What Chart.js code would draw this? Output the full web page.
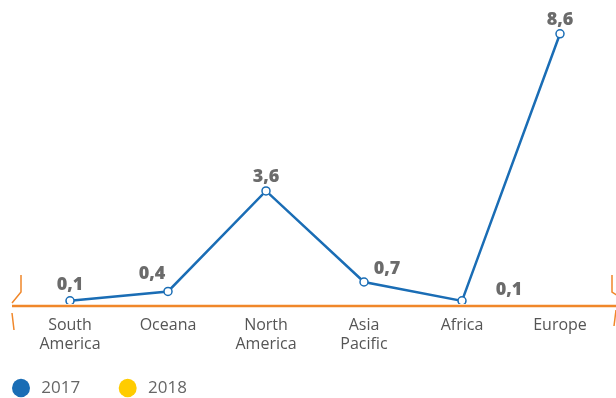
<!DOCTYPE html>
<html>
<head>
<meta charset="utf-8">
<script src="https://cdn.jsdelivr.net/npm/chart.js@4/dist/chart.umd.min.js"></script>
<style>
  html, body { margin: 0; padding: 0; background: #fff; }
  #wrap { width: 616px; height: 398px; position: relative; }
</style>
</head>
<body>
<div id="wrap"><canvas id="regionChart"></canvas></div>
<script>
// data
const regions = [["South", "America"], "Oceana", ["North", "America"], ["Asia", "Pacific"], "Africa", "Europe"];
const values2017 = [0.1, 0.4, 3.6, 0.7, 0.1, 8.6];
const values2018 = [];
const seriesNames = ["2017", "2018"];

const BLUE = "#1a6db5";
const YELLOW = "#ffcc00";
const ORANGE = "#f0872a";
const seriesColors = [BLUE, YELLOW];

// where each value label sits relative to its point
const labelShift = [[0, -16], [-16, -18], [0, -14], [23, -13], [47, -11], [0, -14]];

/* ===== ORANGE BASE LINE + BRACKETS ===== */
const baseLine = {
  id: "baseLine",
  beforeDatasetsDraw(chart) {
    const ctx = chart.ctx;
    const y = chart.scales.y.getPixelForValue(0) + 2;
    ctx.save();
    ctx.strokeStyle = ORANGE;
    ctx.lineWidth = 2.5;
    ctx.beginPath();
    ctx.moveTo(12, y);
    ctx.lineTo(chart.width, y);
    ctx.stroke();
    ctx.lineWidth = 1.5;
    // left bracket
    ctx.beginPath();
    ctx.moveTo(21, y - 31);
    ctx.lineTo(21, y - 14);
    ctx.lineTo(12, y - 3);
    ctx.moveTo(12, y + 7);
    ctx.lineTo(14, y + 24);
    ctx.stroke();
    // right bracket
    ctx.beginPath();
    ctx.moveTo(612, y - 31);
    ctx.lineTo(612, y - 14);
    ctx.lineTo(618, y - 10);
    ctx.moveTo(616, y + 4);
    ctx.lineTo(614, y + 20);
    ctx.stroke();
    ctx.restore();
  },
};

/* ===== VALUE LABELS ===== */
const valueLabels = {
  id: "valueLabels",
  afterDatasetsDraw(chart) {
    const ctx = chart.ctx;
    const meta = chart.getDatasetMeta(0);
    ctx.save();
    ctx.font = "800 18px 'Open Sans'";
    ctx.fillStyle = "#6b6b6b";
    ctx.textAlign = "center";
    ctx.textBaseline = "middle";
    meta.data.forEach((pt, i) => {
      const v = chart.data.datasets[0].data[i];
      const s = labelShift[i] || [0, -14];
      ctx.fillText(v.toFixed(1).replace(".", ","), pt.x + s[0], pt.y + s[1]);
    });
    ctx.restore();
  },
};

/* legend sits a bit lower than Chart.js puts it */
const legendDrop = {
  id: "legendDrop",
  afterLayout(chart) {
    chart.legend.top += 8.5;
    chart.legend.bottom += 8.5;
  },
};

const ctx = document.getElementById("regionChart");

new Chart(ctx, {
  type: "line",
  data: {
    labels: regions,
    datasets: [
      {
        label: seriesNames[0],
        data: values2017,
        borderColor: BLUE,
        backgroundColor: BLUE,
        borderWidth: 2.5,
        pointRadius: 4,
        pointBorderWidth: 1.5,
        pointBackgroundColor: "#fff",
        pointBorderColor: BLUE,
        tension: 0,
      },
      {
        label: seriesNames[1],
        data: values2018,
        borderColor: YELLOW,
        backgroundColor: YELLOW,
      },
    ],
  },
  options: {
    responsive: true,
    maintainAspectRatio: false,
    animation: false,
    layout: {
      padding: { left: 0, right: 7, top: 5, bottom: 0 },
    },
    plugins: {
      legend: {
        position: "bottom",
        align: "start",
        labels: {
          usePointStyle: true,
          pointStyle: "circle",
          pointStyleWidth: 18,
          boxHeight: 13,
          padding: 12,
          color: "#666",
          font: { family: "'Open Sans'", size: 17 },
          generateLabels(chart) {
            const items = Chart.defaults.plugins.legend.labels.generateLabels(chart);
            items.forEach((it, i) => {
              it.fillStyle = seriesColors[i];
              it.strokeStyle = seriesColors[i];
              it.lineWidth = 0;
              it.text = "\u2009" + it.text + "\u00a0".repeat(6);
            });
            return items;
          },
        },
      },
      tooltip: { enabled: false },
    },
    scales: {
      x: {
        offset: true,
        grid: { display: false },
        border: { display: false },
        ticks: {
          color: "#555",
          font: { family: "'Open Sans'", size: 16, lineHeight: 1.2 },
          maxRotation: 0,
          padding: 4,
        },
        afterFit(scale) {
          scale.height = 55;
        },
      },
      y: {
        min: 0,
        max: 9.5,
        grid: { display: false },
        border: { display: false },
        ticks: { display: false },
        afterFit(scale) {
          scale.width = 21;
        },
      },
    },
  },
  plugins: [baseLine, valueLabels, legendDrop],
});
</script>
</body>
</html>
